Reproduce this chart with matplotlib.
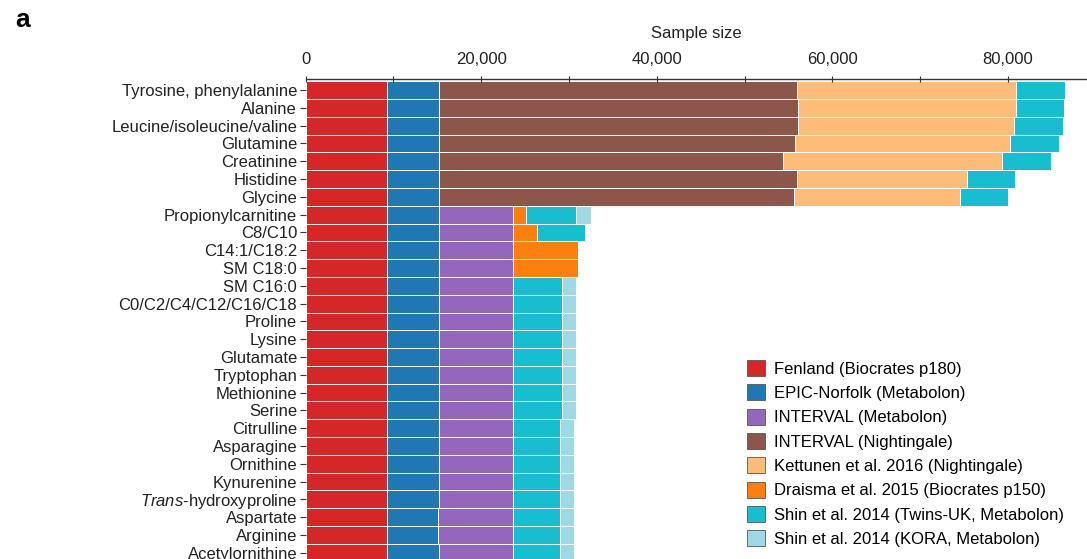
import matplotlib
matplotlib.use("Agg")
import matplotlib.pyplot as plt
from matplotlib.patches import Patch
import numpy as np

plt.rcParams["font.family"] = ["Liberation Sans", "DejaVu Sans"]
plt.rcParams["mathtext.fontset"] = "custom"
plt.rcParams["mathtext.it"] = "Liberation Sans:italic"
plt.rcParams["mathtext.rm"] = "Liberation Sans"

# Metabolites, top to bottom
metabolites = [
    "Tyrosine, phenylalanine", "Alanine", "Leucine/isoleucine/valine",
    "Glutamine", "Creatinine", "Histidine", "Glycine", "Propionylcarnitine",
    "C8/C10", "C14:1/C18:2", "SM C18:0", "SM C16:0", "C0/C2/C4/C12/C16/C18",
    "Proline", "Lysine", "Glutamate", "Tryptophan", "Methionine", "Serine",
    "Citrulline", "Asparagine", "Ornithine", "Kynurenine",
    r"$\mathit{Trans}$-hydroxyproline", "Aspartate", "Arginine",
    "Acetylornithine",
]

studies = [
    "Fenland (Biocrates p180)",
    "EPIC-Norfolk (Metabolon)",
    "INTERVAL (Metabolon)",
    "INTERVAL (Nightingale)",
    "Kettunen et al. 2016 (Nightingale)",
    "Draisma et al. 2015 (Biocrates p150)",
    "Shin et al. 2014 (Twins-UK, Metabolon)",
    "Shin et al. 2014 (KORA, Metabolon)",
]

colors = ["#d62728", "#1f77b4", "#9467bd", "#8c564b",
          "#ffbb78", "#ff7f0e", "#17becf", "#9edae5"]

# Sample size contributed by each study, per metabolite
fenland = [9250] * 27
epic_norfolk = [5990] * 24 + [5800, 5800, 5990]
interval_metabolon = [0] * 7 + [8360] * 17 + [8550, 8550, 8360]
interval_nightingale = [40700, 40820, 40820, 40510, 39110, 40700, 40430] + [0] * 20
kettunen = [24980, 24860, 24630, 24490, 24940, 19370, 18870] + [0] * 20
draisma = [0] * 7 + [1480, 2730, 7470, 7470] + [0] * 16
shin_twins = ([5580, 5500, 5620, 5610, 5580, 5500, 5510] + [5730, 5500, 0, 0]
              + [5580] * 8 + [5400] * 8)
shin_kora = [0] * 7 + [1670, 0, 0, 0] + [1630] * 8 + [1610] * 8

series = [fenland, epic_norfolk, interval_metabolon, interval_nightingale,
          kettunen, draisma, shin_twins, shin_kora]

fig = plt.figure(figsize=(10.87, 5.59), dpi=100)
ax = fig.add_axes([305.5 / 1087, 0, 1 - 305.5 / 1087, (559 - 79) / 559])

y = np.arange(len(metabolites))
left = np.zeros(len(metabolites))
for vals, col in zip(series, colors):
    vals = np.asarray(vals, dtype=float)
    ax.barh(y, vals, left=left, height=1.0, color=col,
            edgecolor="white", linewidth=0.7)
    left += vals

ax.set_xlim(0, 89000)
ax.set_ylim(26.35, -0.62)

ax.set_yticks(y)
ax.set_yticklabels(metabolites, fontsize=12, color="#222222")
ax.tick_params(axis="y", length=4, width=0.8, pad=2, color="#333333")

ax.xaxis.tick_top()
ax.xaxis.set_label_position("top")
xt = np.arange(0, 90000, 10000)
ax.set_xticks(xt)
ax.set_xticklabels([f"{v:,}" if v % 20000 == 0 else "" for v in xt],
                   fontsize=12, color="#222222")
ax.tick_params(axis="x", direction="inout", length=5, width=0.8,
               pad=6, color="#333333")
ax.set_xlabel("Sample size", fontsize=12, color="#222222", labelpad=10)

for side in ["right", "bottom", "left"]:
    ax.spines[side].set_visible(False)
ax.spines["top"].set_color("#333333")
ax.spines["top"].set_linewidth(1.0)

handles = [Patch(facecolor=c, edgecolor="#555555", linewidth=0.6) for c in colors]
fig.legend(handles, studies, loc="upper left",
           bbox_to_anchor=(747 / 1087, 1 - 360 / 559),
           frameon=False, fontsize=12, handlelength=1.1, handleheight=1.1,
           handletextpad=0.5, labelspacing=0.46, borderpad=0, borderaxespad=0)

fig.text(15 / 1087, 1 - 8 / 559, "a", fontsize=19, fontweight="bold",
         va="top", ha="left")

fig.savefig("out.png", dpi=100)
